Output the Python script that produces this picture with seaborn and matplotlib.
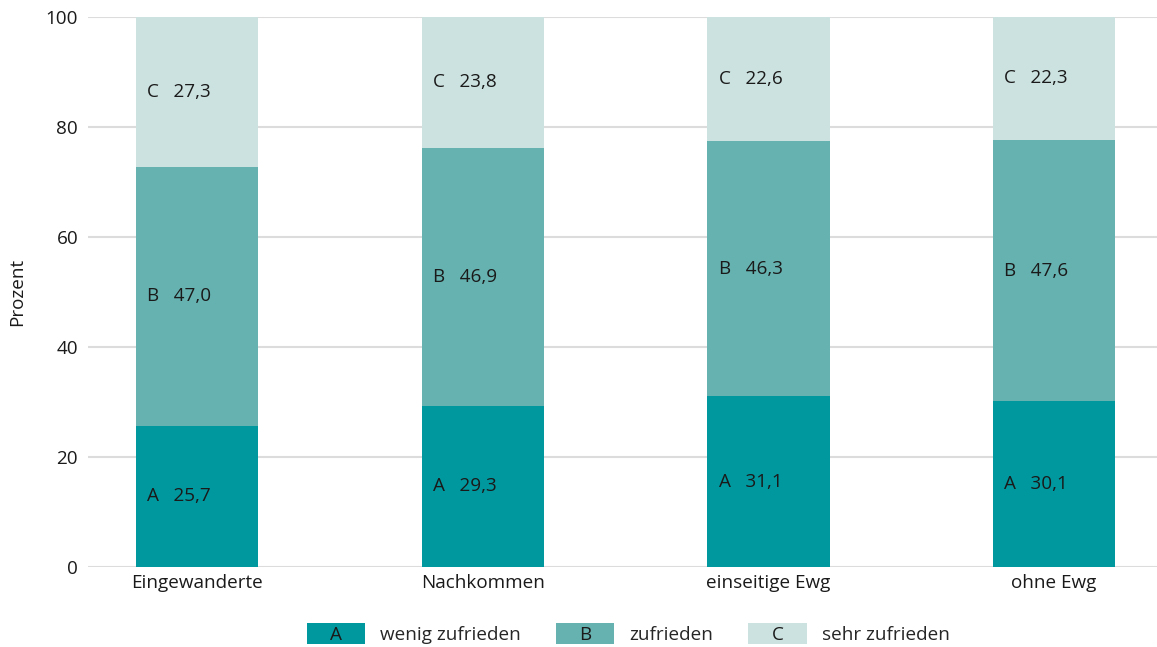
import matplotlib
matplotlib.use("Agg")
import matplotlib.pyplot as plt
from matplotlib.patches import Patch
import numpy as np
import pandas as pd
import seaborn as sns

categories = ["Eingewanderte", "Nachkommen", "einseitige Ewg", "ohne Ewg"]
wenig_zufrieden = [25.7, 29.3, 31.1, 30.1]
zufrieden = [47.0, 46.9, 46.3, 47.6]
sehr_zufrieden = [27.3, 23.8, 22.6, 22.3]
codes = ["A", "B", "C"]
series_names = ["wenig zufrieden", "zufrieden", "sehr zufrieden"]
yticks = [0, 20, 40, 60, 80, 100]

colors = ["#00989f", "#66b2b0", "#cce2e0"]
FS = 13.6

sns.set_theme(style="white")
plt.rcParams["font.family"] = ["Open Sans", "DejaVu Sans"]
plt.rcParams["font.size"] = FS

fig = plt.figure(figsize=(11.57, 6.47), dpi=100)
ax = fig.add_axes([0.076, 0.1236, 0.924, 0.8501])

series = [wenig_zufrieden, zufrieden, sehr_zufrieden]
cum = np.cumsum(np.array(series), axis=0)
bottoms = np.vstack([np.zeros(len(categories)), cum[:-1]])

# stacked bars: draw totals back to front so each layer shows its own segment
bar_w = 0.428
for i in reversed(range(len(series))):
    df = pd.DataFrame({"cat": categories, "val": cum[i]})
    sns.barplot(data=df, x="cat", y="val", color=colors[i], width=bar_w,
                saturation=1, linewidth=0, edgecolor="none", ax=ax, zorder=2)

for i, vals in enumerate(series):
    for j, v in enumerate(vals):
        mid = bottoms[i][j] + v / 2
        ax.text(j - bar_w / 2 + 0.040, mid,
                f"{codes[i]}   " + f"{v:.1f}".replace(".", ","),
                ha="left", va="center", fontsize=FS, color="#1a1a1a", zorder=3)

ax.set_xlim(-0.382, 3.36)
ax.set_ylim(0, 100)
ax.set_yticks(yticks)
ax.yaxis.grid(True, color="#dcdcdc", linewidth=1.5, zorder=0)
ax.set_axisbelow(True)
for s in ax.spines.values():
    s.set_visible(False)
ax.tick_params(axis="both", length=0, labelsize=FS, colors="#1a1a1a")
ax.tick_params(axis="y", pad=7)
ax.tick_params(axis="x", pad=5)
ax.set_xlabel("")
ax.set_ylabel("Prozent", fontsize=FS, color="#1a1a1a")
ax.yaxis.set_label_coords(-0.058, 0.5)

handles = [Patch(facecolor=c, edgecolor="none") for c in colors]
leg = fig.legend(handles, series_names, loc="center", ncol=3,
                 bbox_to_anchor=(0.543, 0.021), frameon=False, fontsize=FS,
                 handlelength=3.1, handleheight=1.3, handletextpad=0.8,
                 columnspacing=1.85)

fig.canvas.draw()
inv = fig.transFigure.inverted()
renderer = fig.canvas.get_renderer()
for h, code in zip(leg.legend_handles, codes):
    bb = h.get_window_extent(renderer)
    cx, cy = inv.transform(((bb.x0 + bb.x1) / 2, (bb.y0 + bb.y1) / 2 - 2))
    fig.text(cx, cy, code, ha="center", va="center", fontsize=FS,
             color="#1a1a1a", zorder=10)

fig.savefig("out.png", dpi=100)
